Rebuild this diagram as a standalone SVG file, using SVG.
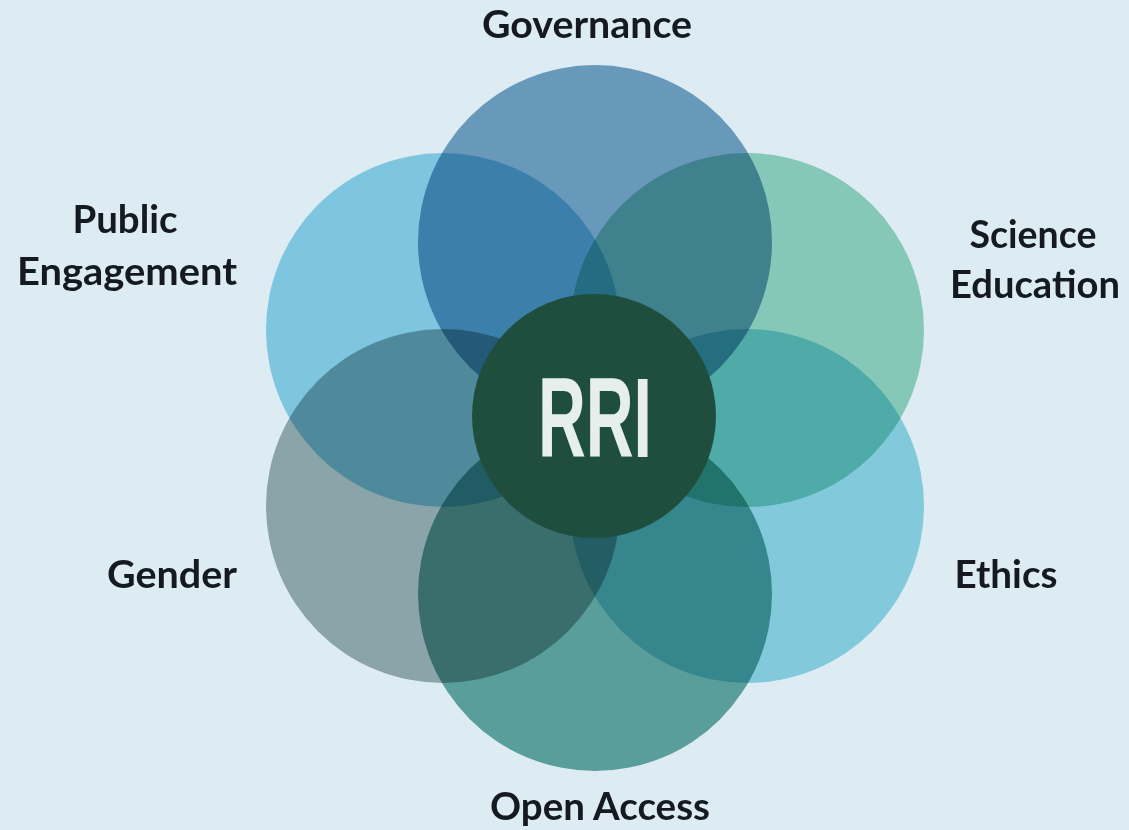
<svg xmlns="http://www.w3.org/2000/svg" width="1129" height="830" viewBox="0 0 1129 830">
<style>
.petal{mix-blend-mode:multiply;}
.lbl{font-family:Lato,"Liberation Sans",sans-serif;font-weight:bold;font-size:39px;fill:#141a20;}
.core{font-family:"Liberation Sans Narrow","Liberation Sans",sans-serif;font-weight:bold;font-size:114px;fill:#e6efec;}
</style>
<rect width="1129" height="830" fill="#ddecf3"/>
<g id="petals">
<g id="governance"><circle class="petal" cx="595" cy="242" r="177" fill="#78a4c3"/><text class="lbl" x="587" y="38" text-anchor="middle" textLength="210" lengthAdjust="spacingAndGlyphs">Governance</text></g>
<g id="science-education"><circle class="petal" cx="747" cy="330" r="177" fill="#9bd8c1"/><text class="lbl" x="1033" y="248" text-anchor="middle" textLength="127" lengthAdjust="spacingAndGlyphs">Science</text><text class="lbl" x="1035" y="298" text-anchor="middle" textLength="170" lengthAdjust="spacingAndGlyphs">Education</text></g>
<g id="ethics"><circle class="petal" cx="747" cy="506" r="177" fill="#96dae7"/><text class="lbl" x="1006" y="588" text-anchor="middle" textLength="103" lengthAdjust="spacingAndGlyphs">Ethics</text></g>
<g id="open-access"><circle class="petal" cx="595" cy="594" r="177" fill="#68aba4"/><text class="lbl" x="600" y="820" text-anchor="middle" textLength="220" lengthAdjust="spacingAndGlyphs">Open Access</text></g>
<g id="gender"><circle class="petal" cx="443" cy="506" r="177" fill="#a0b1b2"/><text class="lbl" x="172" y="588" text-anchor="middle" textLength="130" lengthAdjust="spacingAndGlyphs">Gender</text></g>
<g id="public-engagement"><circle class="petal" cx="443" cy="330" r="177" fill="#91d6eb"/><text class="lbl" x="125" y="233" text-anchor="middle" textLength="105" lengthAdjust="spacingAndGlyphs">Public</text><text class="lbl" x="127" y="285" text-anchor="middle" textLength="220" lengthAdjust="spacingAndGlyphs">Engagement</text></g>
</g>
<g id="rri"><circle cx="594" cy="416" r="122" fill="#1f4e3e"/><text class="core" x="595" y="457" text-anchor="middle" textLength="114" lengthAdjust="spacingAndGlyphs">RRI</text></g>
<g id="connectors"/>
</svg>
